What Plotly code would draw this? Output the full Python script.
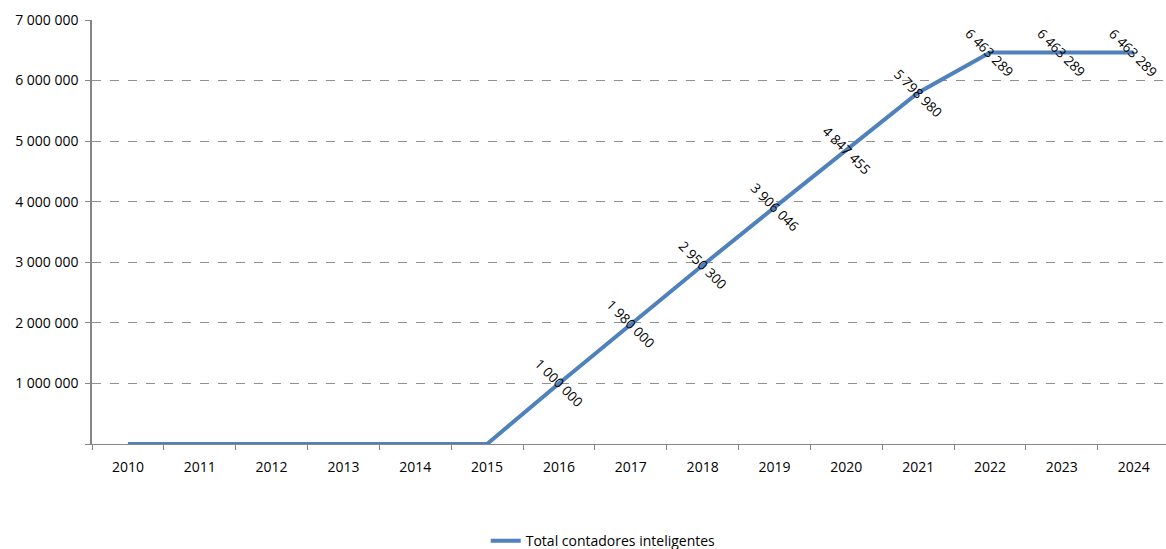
import plotly.graph_objects as go

years = [str(y) for y in range(2010, 2025)]
contadores = [0, 0, 0, 0, 0, 0, 1000000, 1980000, 2950300, 3906046,
              4847455, 5798980, 6463289, 6463289, 6463289]
y_ticks = [0, 1000000, 2000000, 3000000, 4000000, 5000000, 6000000, 7000000]
series_name = "Total contadores inteligentes"


def fmt(v):
    return f"{v:,}".replace(",", " ")


FONT = "'Open Sans', 'Noto Sans', sans-serif"
LINE_COLOR = "#4F81BD"

fig = go.Figure()
fig.add_trace(go.Scatter(
    x=years, y=contadores, mode="lines", name=series_name,
    line=dict(color=LINE_COLOR, width=4),
))

# rotated value labels centred on each non-zero point (x given as category index)
for i, v in enumerate(contadores):
    if v > 0:
        fig.add_annotation(
            x=i, y=v, xref="x", yref="y", text=fmt(v), showarrow=False,
            textangle=45, xanchor="center", yanchor="middle",
            font=dict(family=FONT, size=13.5, color="#000000"),
        )

fig.update_layout(
    width=1166, height=549,
    margin=dict(l=92, r=0, t=20, b=105, autoexpand=False),
    paper_bgcolor="white", plot_bgcolor="white",
    font=dict(family=FONT, size=14, color="#000000"),
    showlegend=True,
    legend=dict(orientation="h", x=0.476, y=-0.229, xanchor="center",
                yanchor="middle", font=dict(family=FONT, size=14)),
)
fig.update_xaxes(
    type="category", range=[-0.5, 14.45],
    showline=True, linecolor="#868686", linewidth=1,
    ticks="outside", tickson="boundaries", ticklen=5, tickcolor="#868686",
    ticklabelstandoff=10,
    showgrid=False, zeroline=False,
    tickfont=dict(family=FONT, size=14),
)
fig.update_yaxes(
    range=[0, 7000000], tickvals=y_ticks,
    ticktext=["" if v == 0 else fmt(v) for v in y_ticks],
    showline=True, linecolor="#868686", linewidth=1.5,
    ticks="outside", ticklen=5, tickcolor="#868686",
    ticklabelstandoff=4,
    showgrid=True, gridcolor="#909090", griddash="dash", gridwidth=1,
    zeroline=False, tickfont=dict(family=FONT, size=14),
)

fig.write_html("out.html")
